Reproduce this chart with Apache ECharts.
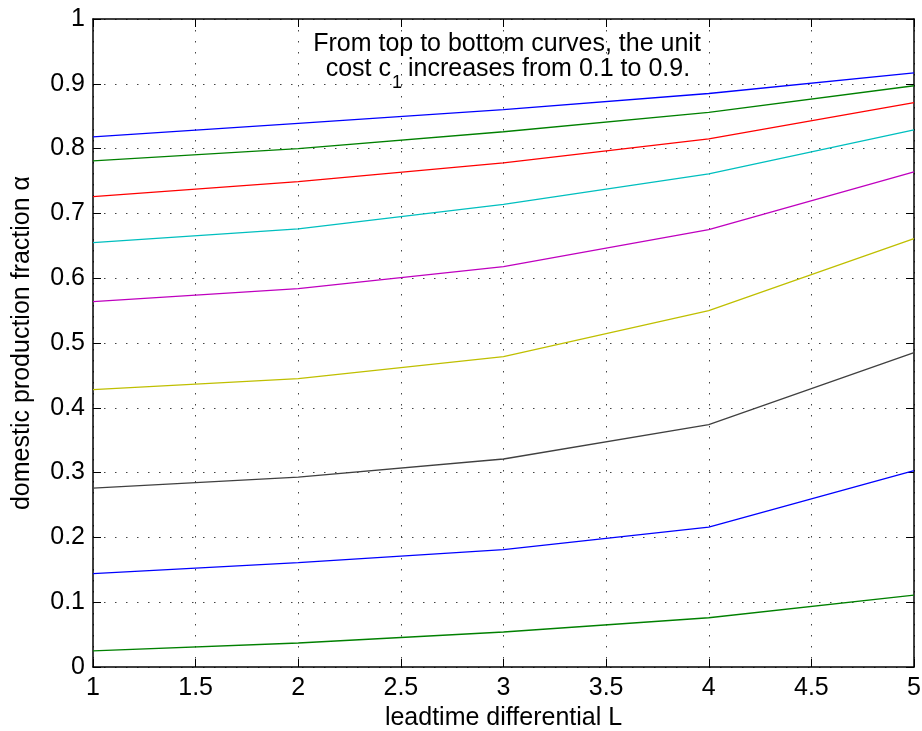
<!DOCTYPE html>
<html>
<head>
<meta charset="utf-8">
<script src="https://cdn.jsdelivr.net/npm/echarts@6/dist/echarts.min.js"></script>
<style>html,body{margin:0;padding:0;background:#fff;}#c{width:922px;height:731px;}</style>
</head>
<body>
<div id="c"></div>
<script>
const leadtimes = [1, 2, 3, 4, 5];
const unitCosts = [0.1, 0.2, 0.3, 0.4, 0.5, 0.6, 0.7, 0.8, 0.9];
const alpha_c01 = [0.818, 0.839, 0.860, 0.885, 0.917];
const alpha_c02 = [0.781, 0.800, 0.826, 0.856, 0.897];
const alpha_c03 = [0.726, 0.749, 0.778, 0.815, 0.871];
const alpha_c04 = [0.655, 0.676, 0.714, 0.761, 0.829];
const alpha_c05 = [0.564, 0.584, 0.618, 0.675, 0.764];
const alpha_c06 = [0.428, 0.445, 0.479, 0.550, 0.661];
const alpha_c07 = [0.276, 0.293, 0.321, 0.374, 0.485];
const alpha_c08 = [0.144, 0.161, 0.181, 0.216, 0.303];
const alpha_c09 = [0.025, 0.037, 0.054, 0.076, 0.111];
const allSeries = [alpha_c01, alpha_c02, alpha_c03, alpha_c04, alpha_c05, alpha_c06, alpha_c07, alpha_c08, alpha_c09];
const colors = ['#0000ff', '#008000', '#ff0000', '#00bfbf', '#bf00bf', '#bfbf00', '#404040', '#0000ff', '#008000'];

const FONT = "'Liberation Sans', Arial, Helvetica, sans-serif";
const FS = 25;

const chart = echarts.init(document.getElementById('c'), null, {renderer: 'canvas'});
const gridLine = {show: true, lineStyle: {color: '#444', width: 1, type: [1.5, 9.5]}};
const axisLine = {show: true, onZero: false, lineStyle: {color: '#000', width: 1.5}};
const tick = {show: true, inside: true, length: 8, lineStyle: {color: '#000', width: 1}};

chart.setOption({
  animation: false,
  backgroundColor: '#fff',
  grid: {left: 93, top: 19, right: 8, bottom: 64, containLabel: false, outerBoundsMode: 'none'},
  xAxis: [
    {type: 'value', min: 1, max: 5, interval: 0.5, position: 'bottom',
     axisLine: axisLine, axisTick: tick, splitLine: gridLine,
     axisLabel: {color: '#000', fontSize: FS, fontFamily: FONT, margin: 9},
     name: 'leadtime differential L', nameLocation: 'middle', nameGap: 38,
     nameTextStyle: {color: '#000', fontSize: FS, fontFamily: FONT}},
    {type: 'value', min: 1, max: 5, interval: 0.5, position: 'top',
     axisLine: axisLine, axisTick: tick, splitLine: {show: false}, axisLabel: {show: false}}
  ],
  yAxis: [
    {type: 'value', min: 0, max: 1, interval: 0.1, position: 'left',
     axisLine: axisLine, axisTick: tick, splitLine: gridLine,
     axisLabel: {color: '#000', fontSize: FS, fontFamily: FONT, margin: 8},
     name: 'domestic production fraction α', nameLocation: 'middle', nameGap: 58, nameRotate: 90,
     nameTextStyle: {color: '#000', fontSize: FS, fontFamily: FONT}},
    {type: 'value', min: 0, max: 1, interval: 0.1, position: 'right',
     axisLine: axisLine, axisTick: tick, splitLine: {show: false}, axisLabel: {show: false}}
  ],
  series: allSeries.map((vals, i) => ({
    name: 'c1 = ' + unitCosts[i],
    type: 'line',
    xAxisIndex: 0, yAxisIndex: 0,
    data: leadtimes.map((l, j) => [l, vals[j]]),
    showSymbol: false,
    symbol: 'none',
    lineStyle: {color: colors[i], width: 1.3},
    itemStyle: {color: colors[i]}
  })),
  graphic: [
    {type: 'text', x: 507, y: 32, z: 100,
     style: {text: 'From top to bottom curves, the unit', fill: '#000', font: FS + 'px ' + FONT, textAlign: 'center', textVerticalAlign: 'top'}},
    {type: 'text', x: 391, y: 57, z: 100,
     style: {text: 'cost c', fill: '#000', font: FS + 'px ' + FONT, textAlign: 'right', textVerticalAlign: 'top'}},
    {type: 'text', x: 392, y: 74, z: 100,
     style: {text: '1', fill: '#000', font: '18px ' + FONT, textAlign: 'left', textVerticalAlign: 'top'}},
    {type: 'text', x: 408, y: 57, z: 100,
     style: {text: 'increases from 0.1 to 0.9.', fill: '#000', font: FS + 'px ' + FONT, textAlign: 'left', textVerticalAlign: 'top'}}
  ]
});
</script>
</body>
</html>
